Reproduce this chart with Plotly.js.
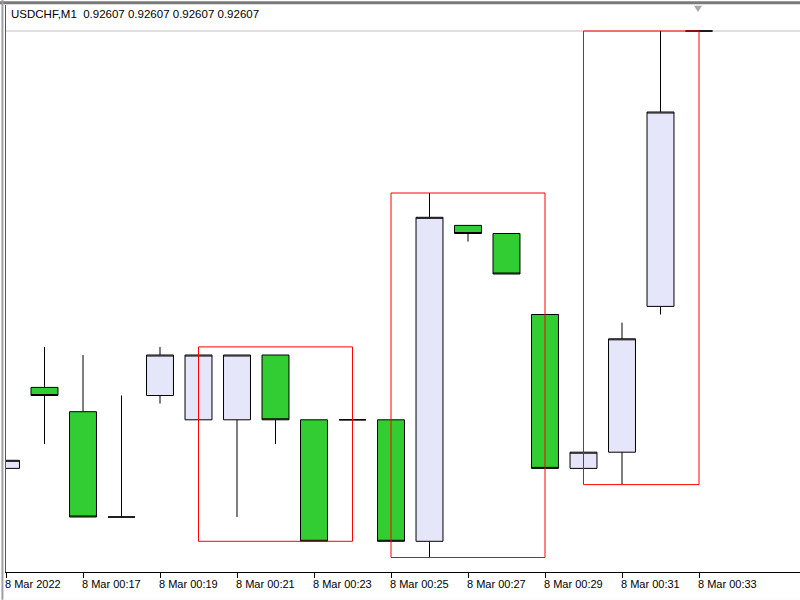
<!DOCTYPE html>
<html>
<head>
<meta charset="utf-8">
<script src="https://cdn.plot.ly/plotly-3.0.1.min.js"></script>
<style>
  html, body { margin: 0; padding: 0; background: #ffffff; }
  #chart { width: 800px; height: 600px; }
</style>
</head>
<body>
<div id="chart"></div>
<script>
// ---- data (USDCHF, M1, 8 Mar 2022) ----
var times = ['00:15','00:16','00:17','00:18','00:19','00:20','00:21','00:22','00:23','00:24',
             '00:25','00:26','00:27','00:28','00:29','00:30','00:31','00:32','00:33'];
var openP  = [0.92553,0.92563,0.92560,0.92547,0.92562,0.92559,0.92559,0.92567,0.92559,0.92559,
              0.92559,0.92544,0.92583,0.92582,0.92572,0.92553,0.92555,0.92573,0.92607];
var highP  = [0.92554,0.92568,0.92567,0.92562,0.92568,0.92567,0.92567,0.92567,0.92559,0.92559,
              0.92559,0.92587,0.92583,0.92582,0.92572,0.92555,0.92571,0.92607,0.92607];
var lowP   = [0.92553,0.92556,0.92547,0.92547,0.92561,0.92559,0.92547,0.92556,0.92544,0.92559,
              0.92544,0.92542,0.92581,0.92577,0.92553,0.92553,0.92551,0.92572,0.92607];
var closeP = [0.92554,0.92562,0.92547,0.92547,0.92567,0.92567,0.92567,0.92559,0.92544,0.92559,
              0.92544,0.92584,0.92582,0.92577,0.92553,0.92555,0.92569,0.92597,0.92607];

var tickIdx    = [0, 2, 4, 6, 8, 10, 12, 14, 16, 18];
var tickLabels = ['8 Mar 2022','8 Mar 00:17','8 Mar 00:19','8 Mar 00:21','8 Mar 00:23',
                  '8 Mar 00:25','8 Mar 00:27','8 Mar 00:29','8 Mar 00:31','8 Mar 00:33'];

// highlighted zones (candle index start/end, price high/low)
var zoneStart = [5, 10, 15];
var zoneEnd   = [9, 14, 18];
var zoneHigh  = [0.92568, 0.92587, 0.92607];
var zoneLow   = [0.92544, 0.92542, 0.92551];

var symbolText = 'USDCHF,M1  0.92607 0.92607 0.92607 0.92607';
var bidPrice = 0.92607;

// ---- build ----
var xIdx = times.map(function (t, i) { return i; });

var trace = {
  type: 'candlestick',
  x: xIdx,
  open: openP, high: highP, low: lowP, close: closeP,
  increasing: { line: { color: '#000000', width: 1 }, fillcolor: '#E6E6FA' },
  decreasing: { line: { color: '#000000', width: 1 }, fillcolor: '#32CD32' },
  whiskerwidth: 0,
  hoverinfo: 'skip',
  showlegend: false
};

var shapes = [];
// bid line
shapes.push({ type: 'line', xref: 'paper', yref: 'y', x0: 0, x1: 1, y0: bidPrice, y1: bidPrice,
              line: { color: '#C0C0C0', width: 1 }, layer: 'below' });
for (var k = 0; k < zoneStart.length; k++) {
  shapes.push({ type: 'rect', xref: 'x', yref: 'y',
                x0: zoneStart[k], x1: zoneEnd[k], y0: zoneLow[k], y1: zoneHigh[k],
                line: { color: '#FF0000', width: 1 }, fillcolor: 'rgba(0,0,0,0)', layer: 'above' });
}
// window frame
shapes.push({ type: 'line', xref: 'paper', yref: 'paper', x0: -0.01, x1: 1, y0: 1.004, y1: 1.004,
              line: { color: '#7A7A7A', width: 3 } });
shapes.push({ type: 'line', xref: 'paper', yref: 'paper', x0: -0.0045, x1: -0.0045, y0: -0.06, y1: 1.01,
              line: { color: '#A0A0A0', width: 2 } });
shapes.push({ type: 'rect', xref: 'paper', yref: 'paper', x0: -0.01, x1: 1, y0: -0.049, y1: -0.06,
              line: { width: 0 }, fillcolor: '#EEEEEE' });
// chart-shift marker
shapes.push({ type: 'path', xref: 'paper', yref: 'paper',
              path: 'M 0.8665 0.9985 L 0.8766 0.9985 L 0.8715 0.9877 Z',
              fillcolor: '#A8A8A8', line: { width: 0 } });

var layout = {
  width: 800, height: 600,
  margin: { l: 6, r: 0, t: 5, b: 28, pad: 0 },
  paper_bgcolor: '#FFFFFF', plot_bgcolor: '#FFFFFF',
  font: { family: 'Liberation Sans, Arial, sans-serif', size: 11, color: '#000000' },
  showlegend: false,
  hovermode: false,
  boxgap: 0.3,
  boxgroupgap: 0,
  xaxis: {
    type: 'linear',
    range: [0, 794 / 38.5],
    tickmode: 'array', tickvals: tickIdx, ticktext: tickLabels,
    ticks: 'outside', ticklen: 5, tickcolor: '#000000', tickwidth: 1,
    ticklabelposition: 'outside right',
    ticklabelstandoff: 2,
    ticklabelshift: -2,
    showline: true, linecolor: '#000000', linewidth: 1,
    showgrid: false, zeroline: false,
    rangeslider: { visible: false },
    fixedrange: true,
    tickfont: { family: 'Liberation Sans, Arial, sans-serif', size: 11, color: '#000000' }
  },
  yaxis: {
    range: [0.9254021, 0.9261021],
    showticklabels: false, ticks: '',
    showline: true, linecolor: '#555555', linewidth: 1,
    showgrid: false, zeroline: false, fixedrange: true
  },
  shapes: shapes,
  annotations: [{
    xref: 'paper', yref: 'paper', x: 0.0038, y: 0.984,
    xanchor: 'left', yanchor: 'middle', showarrow: false,
    text: symbolText,
    font: { family: 'Liberation Sans, Arial, sans-serif', size: 11.5, color: '#000000' }
  }]
};

Plotly.newPlot('chart', [trace], layout, { displayModeBar: false, staticPlot: true });
</script>
</body>
</html>
